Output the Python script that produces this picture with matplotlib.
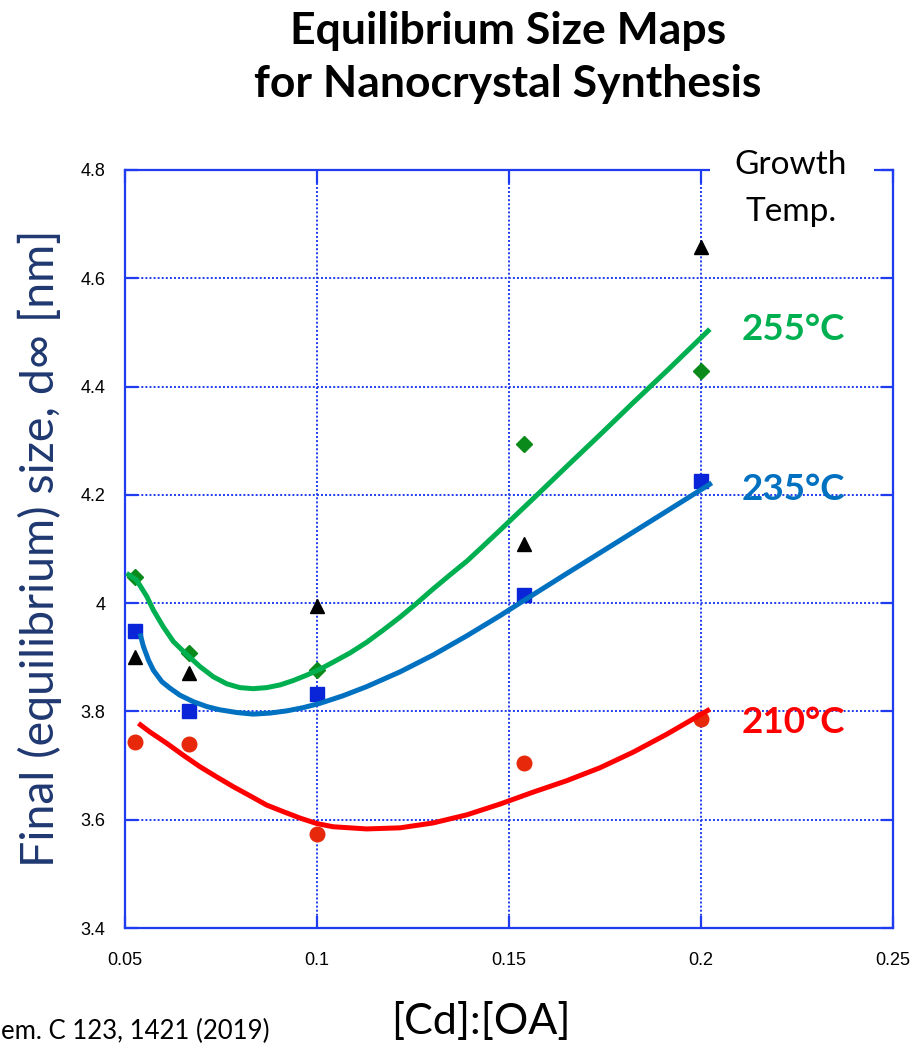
import matplotlib
matplotlib.use("Agg")
import matplotlib.pyplot as plt
from matplotlib.patches import Rectangle

# ---- data ----
ratio = [0.0526, 0.0667, 0.1, 0.1538, 0.2]
black_tri = [3.90, 3.871, 3.995, 4.109, 4.658]
green_dia = [4.048, 3.908, 3.876, 4.294, 4.429]
blue_sq = [3.948, 3.800, 3.832, 4.015, 4.226]
red_circ = [3.743, 3.740, 3.574, 3.705, 3.786]

# fitted curves
g_x = [0.0504, 0.0530, 0.0557, 0.0574, 0.0600, 0.0626, 0.0661, 0.0695, 0.0730,
       0.0765, 0.0799, 0.0834, 0.0869, 0.0904, 0.0938, 0.0973, 0.1008, 0.1042,
       0.1086, 0.1130, 0.1172, 0.1216, 0.1260, 0.1302, 0.1346, 0.1391, 0.1432,
       0.1477, 0.1563, 0.1651, 0.1737, 0.1823, 0.1911, 0.2023]
g_y = [4.055, 4.043, 4.012, 3.987, 3.956, 3.929, 3.905, 3.883, 3.864,
       3.851, 3.844, 3.842, 3.844, 3.849, 3.857, 3.867, 3.878, 3.891,
       3.908, 3.928, 3.950, 3.974, 4.000, 4.026, 4.052, 4.078, 4.105,
       4.135, 4.193, 4.253, 4.311, 4.370, 4.429, 4.506]
b_x = [0.0539, 0.0548, 0.0561, 0.0574, 0.0596, 0.0617, 0.0643, 0.0678, 0.0713,
       0.0747, 0.0791, 0.0834, 0.0878, 0.0921, 0.0964, 0.1008, 0.1068, 0.1130,
       0.1216, 0.1302, 0.1391, 0.1477, 0.1539, 0.1651, 0.1737, 0.1823, 0.1911,
       0.2028]
b_y = [3.944, 3.920, 3.895, 3.876, 3.855, 3.843, 3.830, 3.818, 3.809,
       3.803, 3.798, 3.795, 3.797, 3.801, 3.807, 3.815, 3.829, 3.846,
       3.873, 3.904, 3.940, 3.977, 4.005, 4.055, 4.093, 4.131, 4.170,
       4.222]
r_x = [0.0535, 0.0565, 0.0609, 0.0652, 0.0695, 0.0739, 0.0782, 0.0826, 0.0869,
       0.0912, 0.0956, 0.0999, 0.1042, 0.1129, 0.1216, 0.1302, 0.1390, 0.1477,
       0.1563, 0.1650, 0.1737, 0.1824, 0.1911, 0.2023]
r_y = [3.778, 3.762, 3.741, 3.719, 3.698, 3.679, 3.661, 3.644, 3.627,
       3.615, 3.603, 3.593, 3.587, 3.583, 3.585, 3.594, 3.609, 3.629,
       3.651, 3.672, 3.696, 3.725, 3.758, 3.804]

x_ticks = [0.05, 0.1, 0.15, 0.2, 0.25]
x_tick_labels = ["0.05", "0.1", "0.15", "0.2", "0.25"]
y_ticks = [3.4, 3.6, 3.8, 4.0, 4.2, 4.4, 4.6, 4.8]
y_tick_labels = ["3.4", "3.6", "3.8", "4", "4.2", "4.4", "4.6", "4.8"]

temp_labels = ["255°C", "235°C", "210°C"]
temp_y = [4.505, 4.21, 3.78]

# ---- styling ----
AXBLUE = "#1f3cf0"
GREEN_L = "#00b050"
BLUE_L = "#0070c0"
RED_L = "#ff0000"
CAL = ["Lato", "DejaVu Sans"]
ARIAL = ["Liberation Sans", "DejaVu Sans"]

fig = plt.figure(figsize=(9.15, 10.46), dpi=100)
ax = fig.add_axes([0.1366, 0.1128, 0.8394, 0.7247])

ax.set_xlim(0.05, 0.25)
ax.set_ylim(3.4, 4.8)

ax.grid(True, color=AXBLUE, linestyle=(0, (1, 1.1)), linewidth=1.4)
ax.set_axisbelow(True)
for s in ax.spines.values():
    s.set_color(AXBLUE)
    s.set_linewidth(1.6)

ax.set_xticks(x_ticks)
ax.set_xticklabels(x_tick_labels, fontfamily=ARIAL, fontsize=13)
ax.set_yticks(y_ticks)
ax.set_yticklabels(y_tick_labels, fontfamily=ARIAL, fontsize=13)
ax.tick_params(axis="both", direction="in", length=9, width=1.6, color=AXBLUE,
               top=True, right=True)
ax.tick_params(axis="x", pad=17)
ax.tick_params(axis="y", pad=14)

# curves
ax.plot(g_x, g_y, color=GREEN_L, lw=3.6, solid_capstyle="butt",
        solid_joinstyle="round", zorder=3)
ax.plot(b_x, b_y, color=BLUE_L, lw=3.6, solid_capstyle="butt",
        solid_joinstyle="round", zorder=3)
ax.plot(r_x, r_y, color=RED_L, lw=3.6, solid_capstyle="butt",
        solid_joinstyle="round", zorder=3)

# markers
ax.plot(ratio, black_tri, ls="none", marker="^", ms=10, color="black", zorder=4)
ax.plot(ratio, green_dia, ls="none", marker="D", ms=8, color="#0a8a1a", zorder=2.9)
ax.plot(ratio, blue_sq, ls="none", marker="s", ms=10, color="#0a24d8", zorder=2.9)
ax.plot(ratio, red_circ, ls="none", marker="o", ms=10.5, color="#e8280a", zorder=2.9)

# temperature labels
for lab, yy, c in zip(temp_labels, temp_y, [GREEN_L, BLUE_L, RED_L]):
    ax.text(0.2105, yy, lab, color=c, fontsize=26.5, fontweight="bold",
            fontfamily=CAL, ha="left", va="center")

# gap in the top spine behind the "Growth Temp." note
ax.add_patch(Rectangle((0.2023, 4.79), 0.0428, 0.02, transform=ax.transData,
                       facecolor="white", edgecolor="none", clip_on=False, zorder=5))
fig.text(791 / 915, 1 - 165 / 1046, "Growth", fontsize=24, fontfamily=CAL,
         ha="center", va="center", zorder=6)
fig.text(791 / 915, 1 - 212 / 1046, "Temp.", fontsize=24, fontfamily=CAL,
         ha="center", va="center", zorder=6)

# title
fig.text(508 / 915, 1 - 31 / 1046, "Equilibrium Size Maps", fontsize=32,
         fontweight="bold", fontfamily=CAL, ha="center", va="center")
fig.text(508 / 915, 1 - 84 / 1046, "for Nanocrystal Synthesis", fontsize=32,
         fontweight="bold", fontfamily=CAL, ha="center", va="center")

# axis labels
fig.text(40 / 915, 1 - 548 / 1046, "Final (equilibrium) size, d\u221e [nm]",
         rotation=90, fontsize=33.5, fontfamily=CAL, color="#1f3870",
         ha="center", va="center")
fig.text(481 / 915, 1 - 1022 / 1046, "[Cd]:[OA]", fontsize=31, fontfamily=CAL,
         ha="center", va="center")

# citation (only its visible tail shows in the original)
fig.text(1 / 915, 1 - 1031 / 1046, "em. C 123, 1421 (2019)",
         fontsize=18.5, fontfamily=CAL, ha="left", va="center")

fig.savefig("out.png", dpi=100)
